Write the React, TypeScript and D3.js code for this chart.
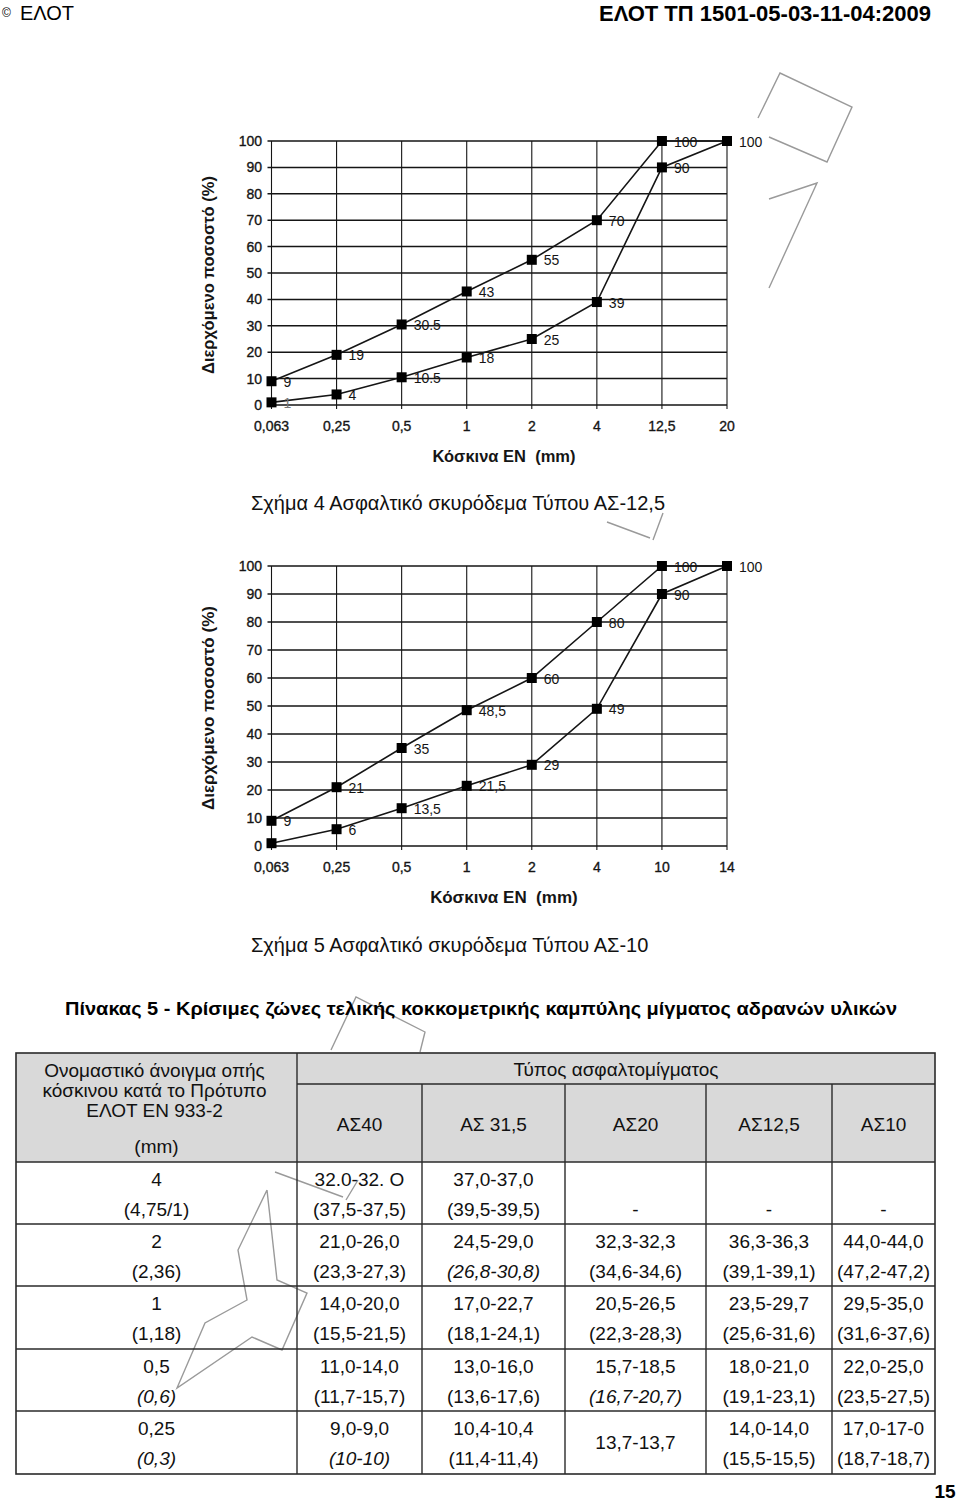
import React from 'react';
import * as d3 from 'd3';

// ---------- chart data ----------
const yTicks = [0, 10, 20, 30, 40, 50, 60, 70, 80, 90, 100];

const sieves4 = ['0,063', '0,25', '0,5', '1', '2', '4', '12,5', '20'];
const upper4 = [9, 19, 30.5, 43, 55, 70, 100, 100];
const lower4 = [1, 4, 10.5, 18, 25, 39, 90, 100];
const upperLabels4 = ['9', '19', '30.5', '43', '55', '70', '100', '100'];
const lowerLabels4 = ['1', '4', '10.5', '18', '25', '39', '90', ''];

const sieves5 = ['0,063', '0,25', '0,5', '1', '2', '4', '10', '14'];
const upper5 = [9, 21, 35, 48.5, 60, 80, 100, 100];
const lower5 = [1, 6, 13.5, 21.5, 29, 49, 90, 100];
const upperLabels5 = ['9', '21', '35', '48,5', '60', '80', '100', '100'];
const lowerLabels5 = ['', '6', '13,5', '21,5', '29', '49', '90', ''];

// ---------- table data ----------
const mixTypes = ['ΑΣ40', 'ΑΣ 31,5', 'ΑΣ20', 'ΑΣ12,5', 'ΑΣ10'];
const sieveMain = ['4', '2', '1', '0,5', '0,25'];
const sieveAlt = ['(4,75/1)', '(2,36)', '(1,18)', '(0,6)', '(0,3)'];
const sieveAltItalic = [false, false, false, true, true];
const rangesMain = [
  ['32.0-32. O', '37,0-37,0', '', '', ''],
  ['21,0-26,0', '24,5-29,0', '32,3-32,3', '36,3-36,3', '44,0-44,0'],
  ['14,0-20,0', '17,0-22,7', '20,5-26,5', '23,5-29,7', '29,5-35,0'],
  ['11,0-14,0', '13,0-16,0', '15,7-18,5', '18,0-21,0', '22,0-25,0'],
  ['9,0-9,0', '10,4-10,4', '13,7-13,7', '14,0-14,0', '17,0-17-0'],
];
const rangesAlt = [
  ['(37,5-37,5)', '(39,5-39,5)', '-', '-', '-'],
  ['(23,3-27,3)', '(26,8-30,8)', '(34,6-34,6)', '(39,1-39,1)', '(47,2-47,2)'],
  ['(15,5-21,5)', '(18,1-24,1)', '(22,3-28,3)', '(25,6-31,6)', '(31,6-37,6)'],
  ['(11,7-15,7)', '(13,6-17,6)', '(16,7-20,7)', '(19,1-23,1)', '(23,5-27,5)'],
  ['(10-10)', '(11,4-11,4)', '', '(15,5-15,5)', '(18,7-18,7)'],
];
const rangesAltItalic = [
  [false, false, false, false, false],
  [false, true, false, false, false],
  [false, false, false, false, false],
  [false, false, true, false, false],
  [true, false, false, false, false],
];
const headerLines = ['Ονομαστικό άνοιγμα οπής', 'κόσκινου κατά το Πρότυπο', 'ΕΛΟΤ ΕΝ 933-2'];

const FONT = "'Liberation Sans', Arial, Helvetica, sans-serif";

type ChartProps = {
  sieves: string[];
  upper: number[];
  lower: number[];
  upperLabels: string[];
  lowerLabels: string[];
  yTop: number;
  yBottom: number;
  titleSize: number;
  xTitleY: number;
  caption: string;
  captionY: number;
};

function GradationChart(p: ChartProps) {
  const x = d3.scalePoint<string>().domain(p.sieves).range([271.5, 727]);
  const y = d3.scaleLinear().domain([0, 100]).range([p.yBottom, p.yTop]);
  const line = d3
    .line<number>()
    .x((_, i) => x(p.sieves[i]) as number)
    .y((d) => y(d));
  const [x0, x1] = x.range();
  const ink = '#151515';
  return (
    <g fontFamily={FONT}>
      {yTicks.map((t) => (
        <line key={'h' + t} x1={x0 - 4} x2={x1} y1={y(t)} y2={y(t)} stroke={ink} strokeWidth={1.5} />
      ))}
      {p.sieves.map((s) => (
        <line key={'v' + s} x1={x(s)} x2={x(s)} y1={p.yTop} y2={p.yBottom + 4} stroke={ink} strokeWidth={1.1} />
      ))}
      {yTicks.map((t) => (
        <text key={'yt' + t} x={262} y={y(t)} dy="0.35em" textAnchor="end" fontSize={14} fill={ink} stroke={ink} strokeWidth={0.35}>
          {t}
        </text>
      ))}
      {p.sieves.map((s) => (
        <text key={'xt' + s} x={x(s)} y={p.yBottom + 21} dy="0.35em" textAnchor="middle" fontSize={14} fill={ink} stroke={ink} strokeWidth={0.35}>
          {s}
        </text>
      ))}
      <path d={line(p.upper) || ''} fill="none" stroke={ink} strokeWidth={1.6} />
      <path d={line(p.lower) || ''} fill="none" stroke={ink} strokeWidth={1.6} />
      {[p.upper, p.lower].map((ser, si) =>
        ser.map((v, i) => (
          <rect key={'m' + si + '-' + i} x={(x(p.sieves[i]) as number) - 5} y={y(v) - 5} width={10} height={10} fill="#000" />
        ))
      )}
      {[
        { ser: p.upper, lab: p.upperLabels },
        { ser: p.lower, lab: p.lowerLabels },
      ].map(({ ser, lab }, si) =>
        ser.map((v, i) =>
          lab[i] ? (
            <text
              key={'l' + si + '-' + i}
              x={(x(p.sieves[i]) as number) + 12}
              y={y(v)}
              dy="0.4em"
              fontSize={14}
              fill={i === 0 && si === 1 ? '#777' : ink}
            >
              {lab[i]}
            </text>
          ) : null
        )
      )}
      <text
        transform={`translate(208,${(p.yTop + p.yBottom) / 2 + 2}) rotate(-90)`}
        textAnchor="middle"
        dy="0.35em"
        fontSize={p.titleSize}
        fontWeight="bold"
        fill={ink}
      >
        Διερχόμενο ποσοστό (%)
      </text>
      <text x={504} y={p.xTitleY} dy="0.35em" textAnchor="middle" fontSize={p.titleSize} fontWeight="bold" fill={ink} style={{ whiteSpace: 'pre' }}>
        {'Κόσκινα ΕΝ  (mm)'}
      </text>
      <text x={251} y={p.captionY} dy="0.35em" fontSize={20} fill="#111">
        {p.caption}
      </text>
    </g>
  );
}

// table geometry
const colEdges = [16, 297, 422, 565, 706, 832, 935];
const tableTop = 1053;
const headerSplit = 1084;
const rowEdges = [1162, 1224, 1286, 1349, 1411, 1474];

function Table() {
  const cx = (c: number) => (colEdges[c] + colEdges[c + 1]) / 2;
  const border = '#2a2a2a';
  const fs = 19;
  return (
    <g fontFamily={FONT} fill="#111">
      <rect x={colEdges[0]} y={tableTop} width={colEdges[6] - colEdges[0]} height={rowEdges[0] - tableTop} fill="#d9d9d9" />
      {headerLines.map((t, i) => (
        <text key={'hl' + i} x={cx(0) - 2} y={1070 + i * 20} dy="0.35em" textAnchor="middle" fontSize={fs}>
          {t}
        </text>
      ))}
      <text x={cx(0)} y={1146} dy="0.35em" textAnchor="middle" fontSize={fs}>
        (mm)
      </text>
      <text x={(colEdges[1] + colEdges[6]) / 2} y={1069} dy="0.35em" textAnchor="middle" fontSize={fs}>
        Τύπος ασφαλτομίγματος
      </text>
      {mixTypes.map((t, i) => (
        <text key={'mt' + i} x={cx(i + 1)} y={1124} dy="0.35em" textAnchor="middle" fontSize={fs}>
          {t}
        </text>
      ))}
      {sieveMain.map((s, r) => (
        <g key={'row' + r}>
          <text x={cx(0)} y={rowEdges[r] + 17} dy="0.35em" textAnchor="middle" fontSize={fs}>
            {s}
          </text>
          <text x={cx(0)} y={rowEdges[r] + 47} dy="0.35em" textAnchor="middle" fontSize={fs} fontStyle={sieveAltItalic[r] ? 'italic' : 'normal'}>
            {sieveAlt[r]}
          </text>
          {rangesMain[r].map((m, c) => {
            const alt = rangesAlt[r][c];
            const mid = (rowEdges[r] + rowEdges[r + 1]) / 2;
            return (
              <g key={'c' + c}>
                {m ? (
                  <text x={cx(c + 1)} y={alt ? rowEdges[r] + 17 : mid} dy="0.35em" textAnchor="middle" fontSize={fs}>
                    {m}
                  </text>
                ) : null}
                {alt ? (
                  <text
                    x={cx(c + 1)}
                    y={rowEdges[r] + 47}
                    dy="0.35em"
                    textAnchor="middle"
                    fontSize={fs}
                    fontStyle={rangesAltItalic[r][c] ? 'italic' : 'normal'}
                  >
                    {alt}
                  </text>
                ) : null}
              </g>
            );
          })}
        </g>
      ))}
      {/* borders */}
      <rect x={colEdges[0]} y={tableTop} width={colEdges[6] - colEdges[0]} height={rowEdges[5] - tableTop} fill="none" stroke={border} strokeWidth={1.6} />
      <line x1={colEdges[1]} x2={colEdges[6]} y1={headerSplit} y2={headerSplit} stroke={border} strokeWidth={1.4} />
      <line x1={colEdges[1]} x2={colEdges[1]} y1={tableTop} y2={rowEdges[5]} stroke={border} strokeWidth={1.4} />
      {colEdges.slice(2, 6).map((cxv) => (
        <line key={'cv' + cxv} x1={cxv} x2={cxv} y1={headerSplit} y2={rowEdges[5]} stroke={border} strokeWidth={1.4} />
      ))}
      {rowEdges.slice(0, 5).map((ry) => (
        <line key={'rh' + ry} x1={colEdges[0]} x2={colEdges[6]} y1={ry} y2={ry} stroke={border} strokeWidth={1.4} />
      ))}
    </g>
  );
}

// faint watermark outline fragments (scan artefact)
const watermark = [
  'M758,118 L780,73 L852,107 L827,162 L769,137',
  'M769,199 L817,183 L769,288',
  'M607,522 L650,538 M663,513 L653,540',
  'M331,1050 L356,997 L425,1032 L420,1052',
  'M275,1172 L343,1197 M358,1180 L346,1200',
  'M267,1190 L238,1250 L247,1300 L205,1323 L177,1388 L252,1337 L282,1350 L307,1293 L277,1280 L267,1190',
];

export default function App() {
  return (
    <svg
      width={960}
      height={1501}
      viewBox="0 0 960 1501"
      style={{ position: 'absolute', left: 0, top: 0, display: 'block', background: '#fff' }}
    >
      <rect x={0} y={0} width={960} height={1501} fill="#fff" />
      {watermark.map((d, i) => (
        <path key={'w' + i} d={d} fill="none" stroke="#9a9a9a" strokeWidth={1.4} />
      ))}
      <g fontFamily={FONT} fill="#000">
        <text x={2} y={13} dy="0.35em" fontSize={12}>
          ©
        </text>
        <text x={20} y={13} dy="0.35em" fontSize={20}>
          ΕΛΟΤ
        </text>
        <text x={931} y={13} dy="0.35em" fontSize={22} fontWeight="bold" textAnchor="end">
          ΕΛΟΤ ΤΠ 1501-05-03-11-04:2009
        </text>
      </g>
      <GradationChart
        sieves={sieves4}
        upper={upper4}
        lower={lower4}
        upperLabels={upperLabels4}
        lowerLabels={lowerLabels4}
        yTop={141}
        yBottom={405}
        titleSize={16.5}
        xTitleY={456}
        caption="Σχήμα 4 Ασφαλτικό σκυρόδεμα Τύπου ΑΣ-12,5"
        captionY={503}
      />
      <GradationChart
        sieves={sieves5}
        upper={upper5}
        lower={lower5}
        upperLabels={upperLabels5}
        lowerLabels={lowerLabels5}
        yTop={566}
        yBottom={846}
        titleSize={17}
        xTitleY={897}
        caption="Σχήμα 5 Ασφαλτικό σκυρόδεμα Τύπου ΑΣ-10"
        captionY={945}
      />
      <text x={65} y={1008} dy="0.35em" fontFamily={FONT} fontSize={19} fontWeight="bold" textLength={832} lengthAdjust="spacingAndGlyphs">
        Πίνακας 5 - Κρίσιμες ζώνες τελικής κοκκομετρικής καμπύλης μίγματος αδρανών υλικών
      </text>
      <Table />
      <text x={945} y={1491} dy="0.35em" textAnchor="middle" fontFamily={FONT} fontSize={19} fontWeight="bold">
        15
      </text>
    </svg>
  );
}
